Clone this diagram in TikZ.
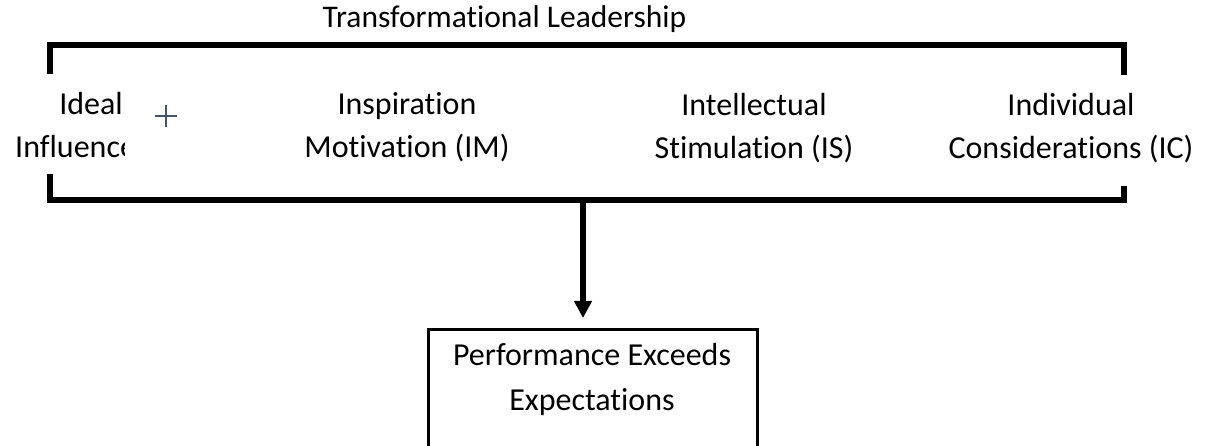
\documentclass[tikz,border=0pt]{standalone}
\usepackage{fontspec}
\setmainfont[Ligatures=NoCommon]{Carlito}
\usetikzlibrary{arrows.meta}

\definecolor{plusgray}{HTML}{44546A}

\tikzset{
  bracketline/.style={line width=6pt, line join=miter},
  dimtext/.style={inner sep=0pt, align=center, font=\fontsize{32}{43}\selectfont},
  titletext/.style={inner sep=0pt, font=\fontsize{31.5}{38}\selectfont},
  outbox/.style={draw, line width=3pt, minimum width=329pt, minimum height=160pt, inner sep=0pt},
  leadarrow/.style={line width=6pt, -{Triangle[length=17pt, width=17pt]}, shorten >=10pt},
  plusmark/.style={draw=plusgray, line width=2.5pt}
}

\begin{document}
\begin{tikzpicture}[x=1pt, y=-1pt]
\useasboundingbox (0, 0) rectangle (1205, 446);
\clip (0, 0) rectangle (1205, 446);

\node[titletext, anchor=base] (title) at (504.5, 28) {Transformational Leadership};

% top bracket
\coordinate (tl) at (50, 74);
\coordinate (tr) at (1124, 75);
\draw[bracketline] (tl) |- (1124, 45) -- (tr);

% bottom bracket
\coordinate (bl) at (50, 174);
\coordinate (br) at (1124, 186);
\draw[bracketline] (bl) |- (1124, 200) -- (br);

\begin{scope}
\clip (0, 60) rectangle (124, 180);
\node[dimtext, anchor=base east] (ideal) at (123, 115) {Ideal};
\node[dimtext, anchor=base west] (influence) at (15, 158) {Influence};
\end{scope}

\coordinate (plus) at (166, 116);
\draw[plusmark] ([xshift=-11pt]plus) -- ([xshift=11pt]plus);
\draw[plusmark] ([yshift=-11pt]plus) -- ([yshift=11pt]plus);

\node[dimtext] (im) at (407, 127) {Inspiration\\Motivation (IM)};
\node[dimtext] (is) at (754, 128) {Intellectual\\Stimulation (IS)};
\node[dimtext] (ic) at (1071, 128) {Individual\\Considerations (IC)};

\node[outbox, anchor=north] (outcome) at (592.5, 328) {};
\node[dimtext, font=\fontsize{32}{45}\selectfont] (outtext) at (592, 379) {Performance Exceeds\\Expectations};

\coordinate (stem) at (583, 200);
\draw[leadarrow] (stem) -- (stem |- outcome.north);
\end{tikzpicture}
\end{document}
